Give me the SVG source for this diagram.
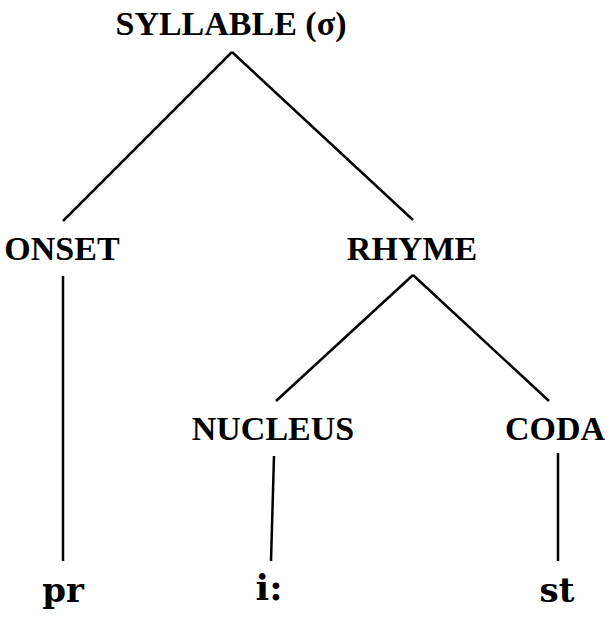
<svg xmlns="http://www.w3.org/2000/svg" width="613" height="617" viewBox="0 0 613 617">
<style>
.lbl{font-family:"Liberation Serif","Times New Roman",serif;font-weight:bold;font-size:34px;fill:#000;text-anchor:middle}
.seg{font-family:"DejaVu Serif","Liberation Serif",serif;font-weight:bold;font-size:34px;fill:#000;text-anchor:middle}
.edge{stroke:#000;stroke-width:2.5;fill:none;stroke-linecap:butt}
</style>
<rect width="613" height="617" fill="#fff"/>
<g id="connectors">
<line class="edge" x1="232" y1="52" x2="63" y2="221"/>
<line class="edge" x1="232" y1="52" x2="413" y2="220"/>
<line class="edge" x1="63" y1="276" x2="63" y2="561"/>
<line class="edge" x1="413" y1="275" x2="276" y2="401"/>
<line class="edge" x1="413" y1="275" x2="549" y2="401"/>
<line class="edge" x1="274" y1="456" x2="271" y2="561"/>
<line class="edge" x1="558" y1="453" x2="558" y2="561"/>
</g>
<g id="syllable"><text class="lbl" x="231" y="35">SYLLABLE (σ)</text></g>
<g id="onset"><text class="lbl" x="62" y="260">ONSET</text></g>
<g id="rhyme"><text class="lbl" x="412" y="260">RHYME</text></g>
<g id="nucleus"><text class="lbl" x="273" y="440">NUCLEUS</text></g>
<g id="coda"><text class="lbl" x="555" y="440">CODA</text></g>
<g id="pr"><text class="seg" x="63" y="602">pr</text></g>
<g id="i"><text class="seg" x="269" y="600" style="font-size:36px">i:</text></g>
<g id="st"><text class="seg" x="557" y="602">st</text></g>
</svg>
